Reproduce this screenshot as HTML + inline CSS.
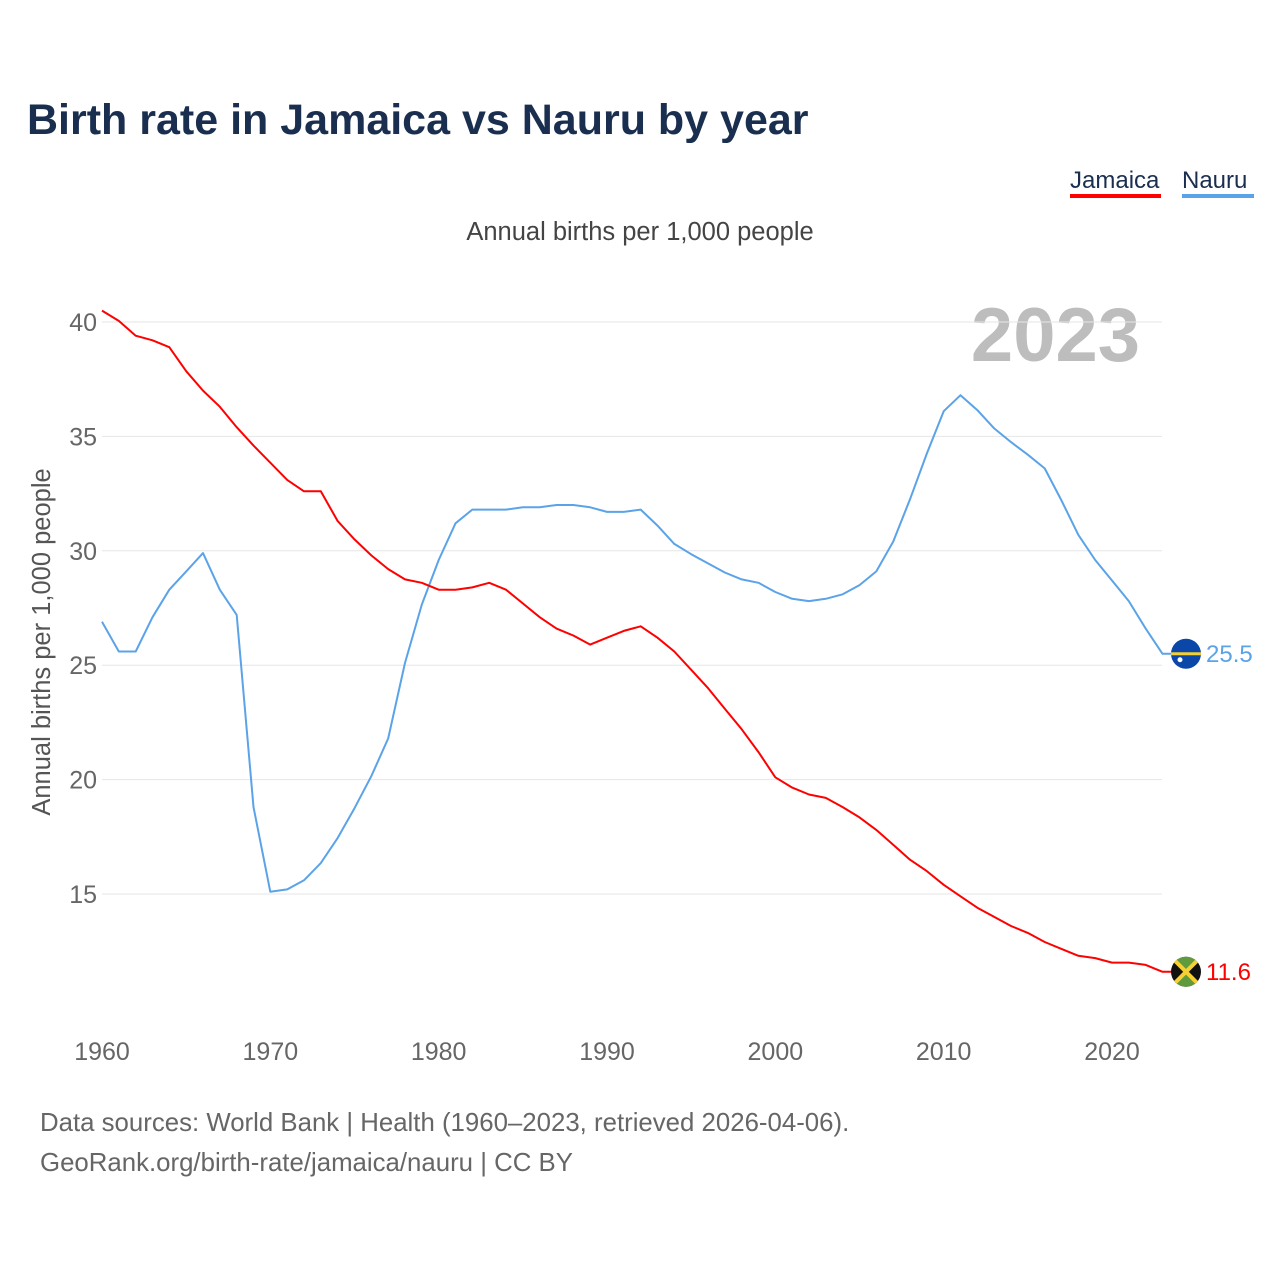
<!DOCTYPE html>
<html><head><meta charset="utf-8">
<style>
body{margin:0;background:#fff;font-family:"Liberation Sans",sans-serif;}
svg text{font-family:"Liberation Sans",sans-serif;}
</style></head>
<body>
<svg id="chart" width="1280" height="1280" viewBox="0 0 1280 1280">
<text x="27" y="134" font-size="43" font-weight="bold" fill="#1a2e4f">Birth rate in Jamaica vs Nauru by year</text>
<g>
<text x="1070" y="188" font-size="24" fill="#1a2e4f">Jamaica</text>
<rect x="1070" y="194" width="91" height="4" fill="#ff0000"/>
</g>
<g>
<text x="1182" y="188" font-size="24" fill="#1a2e4f">Nauru</text>
<rect x="1182" y="194" width="72" height="4" fill="#5ba3e8"/>
</g>
<text x="640" y="240" font-size="25.5" fill="#444" text-anchor="middle">Annual births per 1,000 people</text>
<text x="1140" y="361" font-size="76" font-weight="bold" fill="#bdbdbd" text-anchor="end">2023</text>
<text transform="translate(50,642) rotate(-90)" font-size="25.5" fill="#555" text-anchor="middle">Annual births per 1,000 people</text>
<g id="grid"></g>
<g id="series"></g>
<text x="40" y="1131" font-size="25.8" fill="#666">Data sources: World Bank | Health (1960–2023, retrieved 2026-04-06).</text>
<text x="40" y="1171" font-size="25.8" fill="#666">GeoRank.org/birth-rate/jamaica/nauru | CC BY</text>
</svg>
<script>
const years = [];
for (let y = 1960; y <= 2023; y++) years.push(y);
const jamaica = [40.5,40.05,39.4,39.2,38.9,37.85,37.0,36.3,35.4,34.6,33.85,33.1,32.6,32.6,31.3,30.5,29.8,29.2,28.75,28.6,28.3,28.3,28.4,28.6,28.3,27.7,27.1,26.6,26.3,25.9,26.2,26.5,26.7,26.2,25.6,24.8,24.0,23.1,22.2,21.2,20.1,19.65,19.35,19.2,18.8,18.35,17.8,17.15,16.5,16.0,15.4,14.9,14.4,14.0,13.6,13.3,12.9,12.6,12.3,12.2,12.0,12.0,11.9,11.6];
const nauru = [26.9,25.6,25.6,27.1,28.3,29.1,29.9,28.3,27.2,18.8,15.1,15.2,15.6,16.35,17.45,18.75,20.15,21.8,25.1,27.65,29.6,31.2,31.8,31.8,31.8,31.9,31.9,32.0,32.0,31.9,31.7,31.7,31.8,31.1,30.3,29.85,29.45,29.05,28.75,28.6,28.2,27.9,27.8,27.9,28.1,28.5,29.1,30.4,32.25,34.25,36.1,36.8,36.15,35.35,34.75,34.2,33.6,32.2,30.7,29.6,28.7,27.8,26.6,25.5];
const yTicks = [15,20,25,30,35,40];
const xTicks = [1960,1970,1980,1990,2000,2010,2020];

const NS = "http://www.w3.org/2000/svg";
const xs = y => 102 + (y - 1960) * (1010 / 60);
const ys = v => 322 + (40 - v) * (572 / 25);
const grid = document.getElementById('grid');
const series = document.getElementById('series');

yTicks.forEach(t => {
  const l = document.createElementNS(NS,'line');
  l.setAttribute('x1',102); l.setAttribute('x2',1162);
  l.setAttribute('y1',ys(t)); l.setAttribute('y2',ys(t));
  l.setAttribute('stroke','#e6e6e6'); l.setAttribute('stroke-width','1');
  
  
  grid.appendChild(l);
  const tx = document.createElementNS(NS,'text');
  tx.setAttribute('x',97); tx.setAttribute('y',ys(t)+9);
  tx.setAttribute('text-anchor','end'); tx.setAttribute('font-size','25'); tx.setAttribute('fill','#666');
  tx.textContent = t;
  
  
  grid.appendChild(tx);
});
xTicks.forEach(t => {
  const tx = document.createElementNS(NS,'text');
  tx.setAttribute('x',xs(t)); tx.setAttribute('y',1060);
  tx.setAttribute('text-anchor','middle'); tx.setAttribute('font-size','25'); tx.setAttribute('fill','#666');
  tx.textContent = t;
  
  
  grid.appendChild(tx);
});

function drawLine(vals, color, name) {
  const p = document.createElementNS(NS,'path');
  let d = vals.map((v,i)=>(i?'L':'M')+xs(years[i]).toFixed(1)+','+ys(v).toFixed(1)).join(' ');
  const last = vals[vals.length-1];
  d += ' L1172,' + ys(last).toFixed(1);
  p.setAttribute('d', d);
  p.setAttribute('fill','none'); p.setAttribute('stroke',color); p.setAttribute('stroke-width','2');
  p.setAttribute('stroke-linejoin','round');
  
  
  series.appendChild(p);
}
drawLine(nauru, '#5ba3e8', 'nauru-line');
drawLine(jamaica, '#ff0000', 'jamaica-line');

function endLabel(vals, color, name, flag) {
  const v = vals[vals.length-1];
  const cy = ys(v);
  const g = document.createElementNS(NS,'g');
  
  
  g.innerHTML = flag(cy);
  series.appendChild(g);
  const tx = document.createElementNS(NS,'text');
  tx.setAttribute('x',1206); tx.setAttribute('y',cy+8);
  tx.setAttribute('font-size','24'); tx.setAttribute('fill',color);
  tx.textContent = v.toFixed(1);
  
  
  series.appendChild(tx);
}
endLabel(nauru, '#5ba3e8', 'nauru-flag', cy => `
<defs><clipPath id="cn"><circle cx="1186" cy="${cy}" r="15"/></clipPath></defs>
<g clip-path="url(#cn)"><rect x="1170" y="${cy-16}" width="32" height="32" fill="#0a47a8"/>
<rect x="1170" y="${cy-1.5}" width="32" height="3" fill="#f5d033"/>
<circle cx="1180" cy="${cy+6}" r="2.5" fill="#fff"/></g>`);
endLabel(jamaica, '#ff0000', 'jamaica-flag', cy => `
<defs><clipPath id="cj"><circle cx="1186" cy="${cy}" r="15"/></clipPath></defs>
<g clip-path="url(#cj)"><rect x="1170" y="${cy-16}" width="32" height="32" fill="#111"/>
<polygon points="1170,${cy-16} 1202,${cy-16} 1186,${cy}" fill="#5f9a3c"/>
<polygon points="1170,${cy+16} 1202,${cy+16} 1186,${cy}" fill="#5f9a3c"/>
<line x1="1170" y1="${cy-16}" x2="1202" y2="${cy+16}" stroke="#f5d033" stroke-width="4"/>
<line x1="1202" y1="${cy-16}" x2="1170" y2="${cy+16}" stroke="#f5d033" stroke-width="4"/></g>`);
</script>
</body></html>
